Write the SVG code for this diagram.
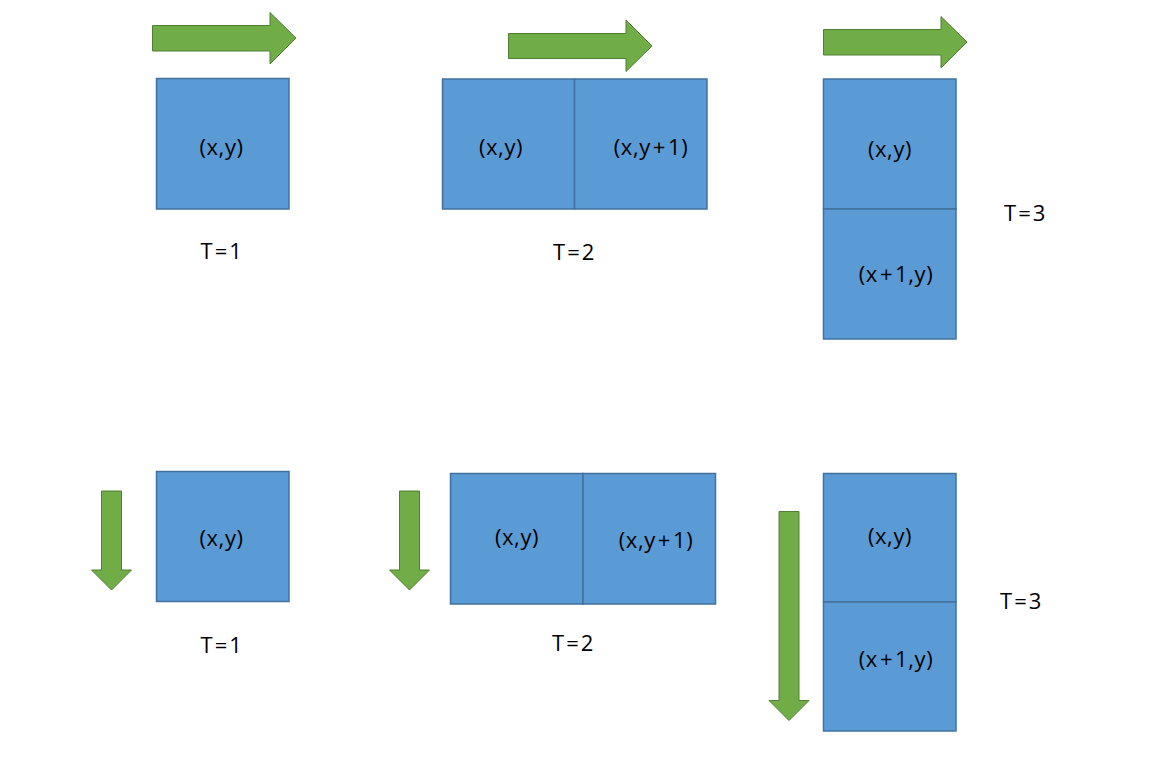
<svg xmlns="http://www.w3.org/2000/svg" width="1163" height="758" viewBox="0 0 1163 758">
<style>
.cell{fill:#5B9BD5;stroke:#41719C;stroke-width:1.5}
.arr{fill:#70AD47;stroke:#507E32;stroke-width:1}
text{font-family:"Open Sans","Noto Sans",sans-serif;font-size:22px;letter-spacing:0.6px;fill:#000;text-anchor:middle}
</style>
<rect width="1163" height="758" fill="#fff"/>
<g id="connectors">
<polygon class="arr" points="152.5,25.5 270,25.5 270,12.5 296,38 270,64 270,51 152.5,51"/>
<polygon class="arr" points="508.5,33.5 626,33.5 626,20 652,46 626,71.5 626,58.5 508.5,58.5"/>
<polygon class="arr" points="823.5,29.5 941,29.5 941,16.5 967,42 941,68 941,55 823.5,55"/>
<polygon class="arr" points="101.5,491 121.5,491 121.5,570 131.5,570 111.5,590 91.5,570 101.5,570"/>
<polygon class="arr" points="399.5,491 419.5,491 419.5,570 429.5,570 409.5,590 389.5,570 399.5,570"/>
<polygon class="arr" points="779,511.5 799,511.5 799,700.5 809,700.5 789,720.5 769,700.5 779,700.5"/>
</g>
<g id="t1-top">
<rect class="cell" x="156.5" y="78.5" width="132.5" height="130.5"/>
<text x="221.5" y="155">(x,y)</text>
<text x="221.5" y="259">T<tspan dx="1.5">=</tspan><tspan dx="1.5">1</tspan></text>
</g>
<g id="t2-top">
<rect class="cell" x="442.5" y="79" width="132" height="130"/>
<rect class="cell" x="574.5" y="79" width="132.5" height="130"/>
<text x="501" y="155">(x,y)</text>
<text x="651" y="155">(x,y<tspan dx="2">+</tspan><tspan dx="2">1)</tspan></text>
<text x="574" y="260">T<tspan dx="1.5">=</tspan><tspan dx="1.5">2</tspan></text>
</g>
<g id="t3-top">
<rect class="cell" x="823.5" y="79" width="132.5" height="130"/>
<rect class="cell" x="823.5" y="209" width="132.5" height="130"/>
<text x="890" y="157">(x,y)</text>
<text x="896" y="282">(x<tspan dx="2">+</tspan><tspan dx="2">1,y)</tspan></text>
<text x="1025" y="221">T<tspan dx="1.5">=</tspan><tspan dx="1.5">3</tspan></text>
</g>
<g id="t1-bottom">
<rect class="cell" x="156.5" y="471.5" width="132.5" height="130"/>
<text x="221.5" y="546">(x,y)</text>
<text x="221.5" y="653">T<tspan dx="1.5">=</tspan><tspan dx="1.5">1</tspan></text>
</g>
<g id="t2-bottom">
<rect class="cell" x="450.5" y="473.5" width="132.5" height="130.5"/>
<rect class="cell" x="583" y="473.5" width="132.5" height="130.5"/>
<text x="517" y="545">(x,y)</text>
<text x="656" y="548">(x,y<tspan dx="2">+</tspan><tspan dx="2">1)</tspan></text>
<text x="573" y="651">T<tspan dx="1.5">=</tspan><tspan dx="1.5">2</tspan></text>
</g>
<g id="t3-bottom">
<rect class="cell" x="823.5" y="473.5" width="132.5" height="128.5"/>
<rect class="cell" x="823.5" y="602" width="132.5" height="129"/>
<text x="890" y="544">(x,y)</text>
<text x="896" y="667">(x<tspan dx="2">+</tspan><tspan dx="2">1,y)</tspan></text>
<text x="1021" y="609">T<tspan dx="1.5">=</tspan><tspan dx="1.5">3</tspan></text>
</g>
</svg>
